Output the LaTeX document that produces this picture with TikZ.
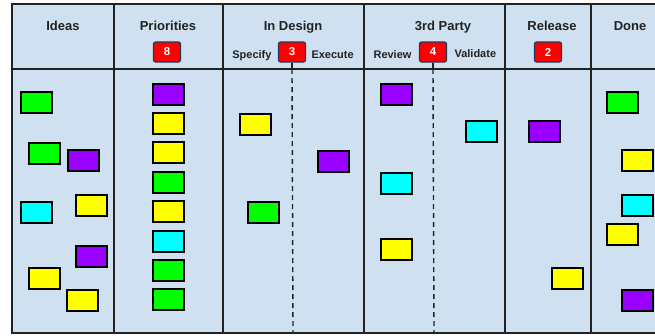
\documentclass[tikz,border=0pt]{standalone}
\usepackage{fontspec}
\setmainfont{Liberation Sans}
\usetikzlibrary{positioning}

\definecolor{laneblue}{HTML}{CFE0F1}
\definecolor{inkgray}{HTML}{222222}
\definecolor{badgeedge}{HTML}{1F3A5F}
\definecolor{cardgreen}{HTML}{00FF00}
\definecolor{cardpurple}{HTML}{9900FF}
\definecolor{cardyellow}{HTML}{FFFF00}
\definecolor{cardcyan}{HTML}{00FFFF}

\begin{document}
\begin{tikzpicture}[
    x=1pt, y=-1pt,
    every node/.style={font=\bfseries, text=inkgray},
    header/.style={
        font=\fontsize{13}{15}\selectfont\bfseries,
        anchor=base
    },
    sublabel/.style={
        font=\fontsize{11}{13}\selectfont\bfseries,
        anchor=base
    },
    badge/.style={
        rectangle,
        draw=badgeedge,
        fill=red,
        rounded corners=2pt,
        line width=1.2pt,
        minimum width=27pt,
        minimum height=20pt,
        inner sep=0pt,
        text=white,
        font=\fontsize{11.5}{13}\selectfont\bfseries
    },
    card/.style={
        rectangle,
        draw=black,
        line width=2pt,
        minimum width=31pt,
        minimum height=21pt,
        inner sep=0pt
    },
    lane/.style={
        draw=inkgray,
        line width=1.4pt
    },
    split/.style={
        draw=inkgray,
        line width=1.4pt,
        dashed,
        dash pattern=on 5pt off 4pt
    }
]

\useasboundingbox (0,0) rectangle (655,335);
\clip (0,0) rectangle (655,335);

% Board frame and lanes
\fill[laneblue] (12,4) rectangle (672,333);
\draw[lane] (12,69) -- (672,69);
\draw[lane] (114,4) -- (114,333);
\draw[lane] (223,4) -- (223,333);
\draw[lane] (364,4) -- (364,333);
\draw[lane] (505,4) -- (505,333);
\draw[lane] (591,4) -- (591,333);
\draw[inkgray, line width=2pt] (12,4) rectangle (672,333);

% Column headers
\node[header] (ideas) at (63,30) {Ideas};
\node[header] (prio) at (168,30) {Priorities};
\node[header] (design) at (293,30) {In Design};
\node[header] (party) at (443,30) {3rd Party};
\node[header] (release) at (552,30) {Release};
\node[header] (done) at (630,30) {Done};

% WIP limits
\node[badge] (prioLimit) at (167,52) {8};
\node[badge] (designLimit) at (292,52) {3};
\node[badge] (partyLimit) at (433,52) {4};
\node[badge] (releaseLimit) at (548,52) {2};

\node[sublabel, anchor=base east] (specify) at (275,58) {Specify};
\node[sublabel, anchor=base west] (execute) at (308,58) {Execute};
\node[sublabel, anchor=base east] (review) at (415,58) {Review};
\node[sublabel, anchor=base west] (validate) at (451,57) {Validate};

% Sub-column splits
\coordinate (designFoot) at (293,333);
\coordinate (partyFoot) at (434,333);
\draw[inkgray, line width=1.4pt] (designLimit.south) -- (designLimit.south |- 0,69);
\draw[split] (designLimit.south |- 0,69) -- (designFoot);
\draw[inkgray, line width=1.4pt] (partyLimit.south) -- (partyLimit.south |- 0,69);
\draw[split] (partyLimit.south |- 0,69) -- (partyFoot);

% Ideas
\node[card, fill=cardgreen] (idea1) at (36.5,102) {};
\node[card, fill=cardgreen] (idea2) at (44,153.5) {};
\node[card, fill=cardpurple] (idea3) at (83,160.5) {};
\node[card, fill=cardcyan] (idea4) at (36.5,212) {};
\node[card, fill=cardyellow] (idea5) at (91,205) {};
\node[card, fill=cardpurple] (idea6) at (91,256) {};
\node[card, fill=cardyellow] (idea7) at (44,278.5) {};
\node[card, fill=cardyellow] (idea8) at (82,300) {};

% Priorities
\foreach \col [count=\i] in {cardpurple,cardyellow,cardyellow,cardgreen,cardyellow,cardcyan,cardgreen,cardgreen}
    \node[card, fill=\col] (prio\i) at (168.5,{94+29.4*(\i-1)}) {};

% In Design
\node[card, fill=cardyellow] (spec1) at (255,124) {};
\node[card, fill=cardgreen] (spec2) at (263,212.5) {};
\node[card, fill=cardpurple] (exec1) at (333.5,161) {};

% 3rd Party
\node[card, fill=cardpurple] (review1) at (396,94) {};
\node[card, fill=cardcyan] (review2) at (396,183) {};
\node[card, fill=cardyellow] (review3) at (396,249) {};
\node[card, fill=cardcyan] (valid1) at (481,131) {};

% Release
\node[card, fill=cardpurple] (rel1) at (544.5,131) {};
\node[card, fill=cardyellow] (rel2) at (567.5,278.5) {};

% Done
\node[card, fill=cardgreen] (done1) at (622,102) {};
\node[card, fill=cardyellow] (done2) at (637.5,160.5) {};
\node[card, fill=cardcyan] (done3) at (637.5,205) {};
\node[card, fill=cardyellow] (done4) at (622.5,234) {};
\node[card, fill=cardpurple] (done5) at (637.5,300) {};

\end{tikzpicture}
\end{document}
